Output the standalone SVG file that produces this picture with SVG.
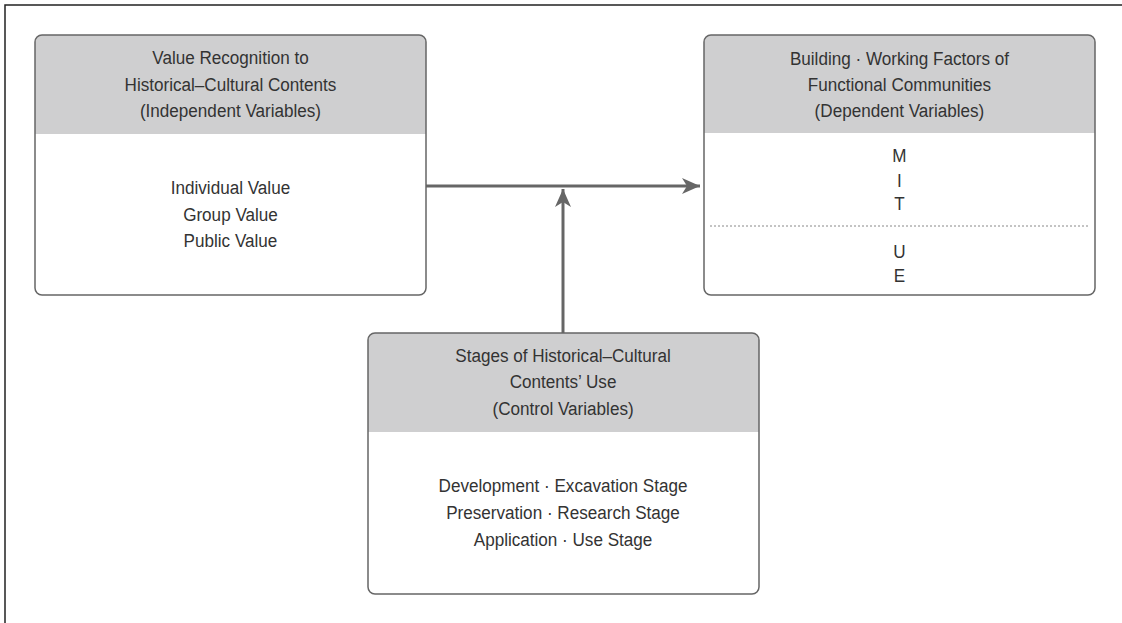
<svg xmlns="http://www.w3.org/2000/svg" width="1122" height="623" viewBox="0 0 1122 623">
<style>
.box{fill:none;stroke:#666;stroke-width:1.5}
.hdr{fill:#cfcfd0}
.t{font-family:"Liberation Sans",Arial,sans-serif;font-size:19px;fill:#333;text-anchor:middle}
.con{stroke:#666;stroke-width:3;fill:none}
</style>
<defs>
<marker id="ah" markerUnits="userSpaceOnUse" markerWidth="20" markerHeight="16" refX="18" refY="8" orient="auto">
<path d="M0,0 L18,8 L0,16 L5,8 Z" fill="#666"/>
</marker>
<clipPath id="c1"><rect x="35" y="35" width="391" height="260" rx="7"/></clipPath>
<clipPath id="c2"><rect x="704" y="35" width="391" height="260" rx="7"/></clipPath>
<clipPath id="c3"><rect x="368" y="333" width="391" height="261" rx="7"/></clipPath>
</defs>
<rect width="1122" height="623" fill="#fff"/>
<path d="M5,623 L5,5 L1122,5" fill="none" stroke="#222" stroke-width="1.5"/>
<g id="connectors">
<line class="con" x1="426" y1="186" x2="700" y2="186" marker-end="url(#ah)"/>
<line class="con" x1="563" y1="333" x2="563" y2="189" marker-end="url(#ah)"/>
</g>
<g id="independent">
<rect x="35" y="35" width="391" height="260" rx="7" fill="#fff"/>
<rect x="35" y="35" width="391" height="99" class="hdr" clip-path="url(#c1)"/>
<rect x="35" y="35" width="391" height="260" rx="7" class="box"/>
<g transform="scale(0.9,1)">
<text class="t" x="256.1" y="64">Value Recognition to</text>
<text class="t" x="256.1" y="91">Historical–Cultural Contents</text>
<text class="t" x="256.1" y="117">(Independent Variables)</text>
<text class="t" x="256.1" y="194">Individual Value</text>
<text class="t" x="256.1" y="221">Group Value</text>
<text class="t" x="256.1" y="247">Public Value</text>
</g>
</g>
<g id="dependent">
<rect x="704" y="35" width="391" height="260" rx="7" fill="#fff"/>
<rect x="704" y="35" width="391" height="98" class="hdr" clip-path="url(#c2)"/>
<rect x="704" y="35" width="391" height="260" rx="7" class="box"/>
<line x1="710" y1="226" x2="1089" y2="226" stroke="#888" stroke-width="1" stroke-dasharray="2,2"/>
<g transform="scale(0.9,1)">
<text class="t" x="999.4" y="65">Building · Working Factors of</text>
<text class="t" x="999.4" y="91">Functional Communities</text>
<text class="t" x="999.4" y="117">(Dependent Variables)</text>
<text class="t" x="999.4" y="162">M</text>
<text class="t" x="999.4" y="187">I</text>
<text class="t" x="999.4" y="210">T</text>
<text class="t" x="999.4" y="258">U</text>
<text class="t" x="999.4" y="282">E</text>
</g>
</g>
<g id="control">
<rect x="368" y="333" width="391" height="261" rx="7" fill="#fff"/>
<rect x="368" y="333" width="391" height="99" class="hdr" clip-path="url(#c3)"/>
<rect x="368" y="333" width="391" height="261" rx="7" class="box"/>
<g transform="scale(0.9,1)">
<text class="t" x="625.6" y="362">Stages of Historical–Cultural</text>
<text class="t" x="625.6" y="388">Contents’ Use</text>
<text class="t" x="625.6" y="415">(Control Variables)</text>
<text class="t" x="625.6" y="492">Development · Excavation Stage</text>
<text class="t" x="625.6" y="519">Preservation · Research Stage</text>
<text class="t" x="625.6" y="546">Application · Use Stage</text>
</g>
</g>
</svg>
